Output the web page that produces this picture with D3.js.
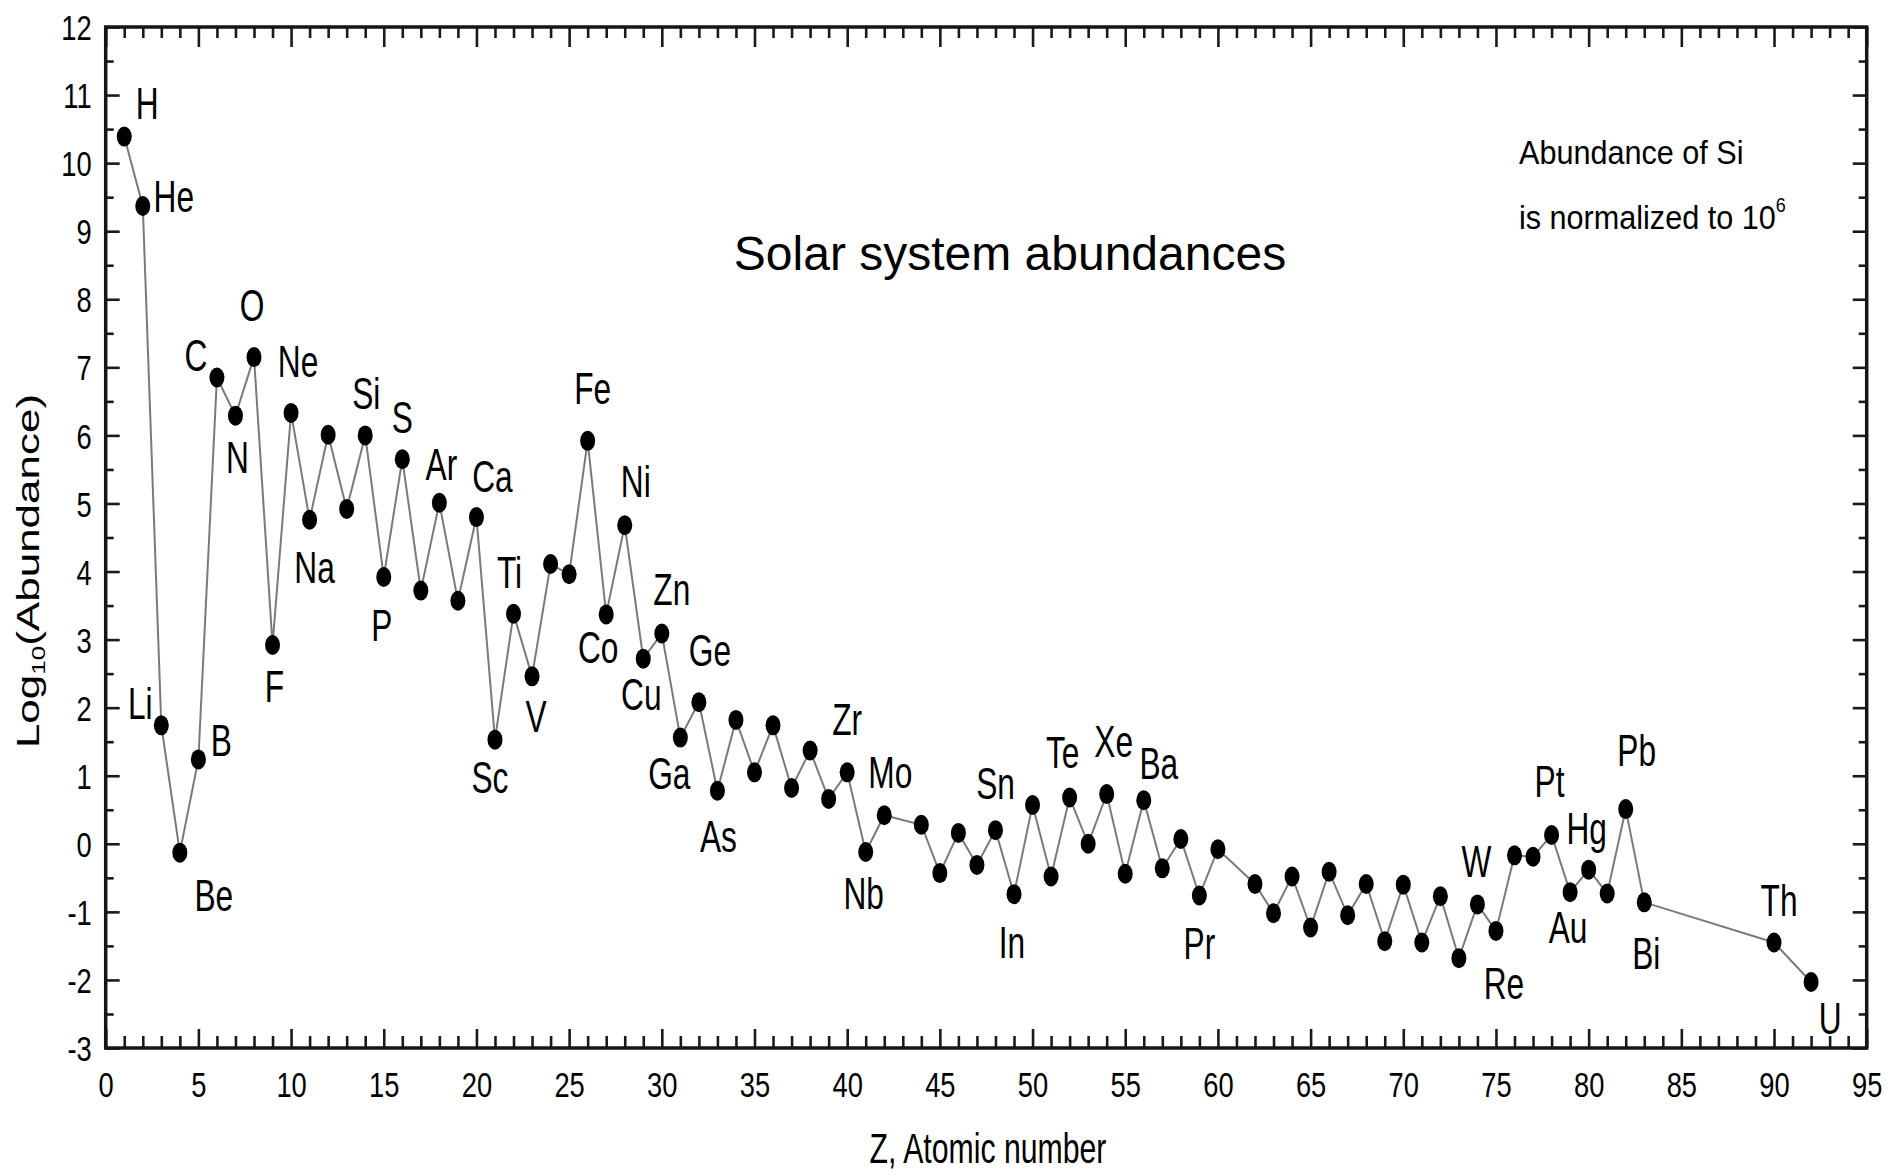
<!DOCTYPE html>
<html>
<head>
<meta charset="utf-8">
<script src="https://cdn.jsdelivr.net/npm/d3@7/dist/d3.min.js"></script>
<style>
  html, body { margin: 0; padding: 0; background: #ffffff; }
  svg { display: block; }
  text { font-family: "Liberation Sans", Arial, Helvetica, sans-serif; fill: #000; }
</style>
</head>
<body>
<svg id="chart" width="1896" height="1176"></svg>
<script>
// Atomic numbers of the plotted elements (no stable Tc, Pm, or Po..Ac, Pa)
const atomicNumbers = [
  1, 2, 3, 4, 5, 6, 7, 8, 9, 10,
  11, 12, 13, 14, 15, 16, 17, 18, 19, 20,
  21, 22, 23, 24, 25, 26, 27, 28, 29, 30,
  31, 32, 33, 34, 35, 36, 37, 38, 39, 40,
  41, 42, 44, 45, 46, 47, 48, 49, 50,
  51, 52, 53, 54, 55, 56, 57, 58, 59, 60,
  62, 63, 64, 65, 66, 67, 68, 69, 70,
  71, 72, 73, 74, 75, 76, 77, 78, 79, 80,
  81, 82, 83, 90, 92
];

const symbols = [
  "H", "He", "Li", "Be", "B", "C", "N", "O", "F", "Ne",
  "Na", "Mg", "Al", "Si", "P", "S", "Cl", "Ar", "K", "Ca",
  "Sc", "Ti", "V", "Cr", "Mn", "Fe", "Co", "Ni", "Cu", "Zn",
  "Ga", "Ge", "As", "Se", "Br", "Kr", "Rb", "Sr", "Y", "Zr",
  "Nb", "Mo", "Ru", "Rh", "Pd", "Ag", "Cd", "In", "Sn",
  "Sb", "Te", "I", "Xe", "Cs", "Ba", "La", "Ce", "Pr", "Nd",
  "Sm", "Eu", "Gd", "Tb", "Dy", "Ho", "Er", "Tm", "Yb",
  "Lu", "Hf", "Ta", "W", "Re", "Os", "Ir", "Pt", "Au", "Hg",
  "Tl", "Pb", "Bi", "Th", "U"
];

// log10 of the abundance, Si = 10^6
const logAbundance = [
  10.39, 9.37, 1.74, -0.13, 1.24, 6.85, 6.29, 7.15, 2.92, 6.33,
  4.76, 6.01, 4.92, 6.00, 3.92, 5.65, 3.72, 5.01, 3.57, 4.80,
  1.53, 3.38, 2.46, 4.11, 3.96, 5.92, 3.37, 4.68, 2.72, 3.09,
  1.56, 2.08, 0.78, 1.82, 1.05, 1.74, 0.82, 1.37, 0.66, 1.05,
  -0.12, 0.42, 0.28, -0.43, 0.16, -0.31, 0.20, -0.74, 0.57,
  -0.48, 0.68, 0.00, 0.73, -0.44, 0.64, -0.36, 0.07, -0.76, -0.08,
  -0.59, -1.02, -0.48, -1.23, -0.41, -1.05, -0.59, -1.43, -0.60,
  -1.45, -0.77, -1.68, -0.89, -1.28, -0.17, -0.19, 0.13, -0.71, -0.38,
  -0.73, 0.51, -0.86, -1.45, -2.03
];

// Axis ticks
const xMajorTicks = [0, 5, 10, 15, 20, 25, 30, 35, 40, 45, 50, 55, 60, 65, 70, 75, 80, 85, 90, 95];
const yMajorTicks = [-3, -2, -1, 0, 1, 2, 3, 4, 5, 6, 7, 8, 9, 10, 11, 12];

// Text
const titleText = "Solar system abundances";
const xTitle = "Z, Atomic number";
const noteLines = ["Abundance of Si", "is normalized to 10"];
const noteExponent = "6";

// Label placement for the named elements: offset of the label centre from the marker (px)
const labelOffsets = {
  H: [23, -33], He: [31, -10], Li: [-21, -22], Be: [34, 42], B: [23, -19],
  C: [-21, -22], N: [2, 41], O: [-2, -52], F: [2, 41], Ne: [7, -52],
  Na: [5, 47], Si: [1, -42], P: [-2, 48], S: [0, -42], Ar: [2, -39],
  Ca: [16, -41], Sc: [-5, 37], Ti: [-4, -42], V: [4, 40], Fe: [5, -53],
  Co: [-8, 33], Ni: [11, -44], Cu: [-2, 35], Zn: [10, -44], Ga: [-11, 36],
  Ge: [11, -52], As: [1, 45], Zr: [0, -53], Nb: [-2, 41], Mo: [6, -43],
  Sn: [-37, -22], In: [-2, 48], Te: [-7, -45], Xe: [7, -53], Ba: [15, -37],
  Pr: [0, 48], W: [-1, -43], Re: [8, 52], Pt: [-2, -54], Au: [-2, 35],
  Hg: [-2, -42], Pb: [11, -59], Bi: [2, 51], Th: [5, -42], U: [19, 36]
};

const svg = d3.select("#chart");
const plot = { left: 105.7, right: 1866.7, top: 27, bottom: 1048 };

const x = d3.scaleLinear().domain([0, 95]).range([plot.left, plot.right]);
const y = d3.scaleLinear().domain([-3, 12]).range([plot.bottom, plot.top]);

const narrowTick = 0.78;   // horizontal squeeze of tick numerals
const narrowLabel = 0.72;  // horizontal squeeze of element labels and axis titles

const points = atomicNumbers.map((z, i) => ({ z, sym: symbols[i], v: logAbundance[i] }));

// ---- axes (all ticks point inward) ----
const tickColor = "#1a1a1a";
function styleAxis(g) {
  g.select(".domain").remove();
  g.selectAll(".tick line").attr("stroke", tickColor).attr("stroke-width", 2.6);
}

const xMinor = d3.range(0, 96).filter(d => d % 5 !== 0);
const yMinor = d3.range(-2.5, 12, 1);

// bottom
svg.append("g").attr("transform", `translate(0,${plot.bottom})`)
  .call(d3.axisBottom(x).tickValues(xMinor).tickSize(-12).tickFormat(""))
  .call(styleAxis);
const xAxisG = svg.append("g").attr("transform", `translate(0,${plot.bottom})`)
  .call(d3.axisBottom(x).tickValues(xMajorTicks).tickSizeInner(-19).tickSizeOuter(0)
    .tickPadding(24).tickFormat(d => String(d)))
  .call(styleAxis);
xAxisG.selectAll("text")
  .attr("font-family", "Liberation Sans, Arial, sans-serif")
  .attr("font-size", 35)
  .attr("fill", "#000")
  .attr("transform", `scale(${narrowTick},1)`);

// top
svg.append("g").attr("transform", `translate(0,${plot.top})`)
  .call(d3.axisTop(x).tickValues(xMinor).tickSize(-11).tickFormat(""))
  .call(styleAxis);
svg.append("g").attr("transform", `translate(0,${plot.top})`)
  .call(d3.axisTop(x).tickValues(xMajorTicks).tickSize(-20).tickFormat(""))
  .call(styleAxis);

// left
svg.append("g").attr("transform", `translate(${plot.left},0)`)
  .call(d3.axisLeft(y).tickValues(yMinor).tickSize(-8).tickFormat(""))
  .call(styleAxis);
const yAxisG = svg.append("g").attr("transform", `translate(${plot.left},0)`)
  .call(d3.axisLeft(y).tickValues(yMajorTicks).tickSizeInner(-14).tickSizeOuter(0)
    .tickPadding(14).tickFormat(d => String(d)))
  .call(styleAxis);
yAxisG.selectAll("text")
  .attr("font-family", "Liberation Sans, Arial, sans-serif")
  .attr("font-size", 35)
  .attr("fill", "#000")
  .attr("x", -14 / narrowTick)
  .attr("dy", "0.36em")
  .attr("transform", `scale(${narrowTick},1)`);

// right
svg.append("g").attr("transform", `translate(${plot.right},0)`)
  .call(d3.axisRight(y).tickValues(yMinor).tickSize(-8).tickFormat(""))
  .call(styleAxis);
svg.append("g").attr("transform", `translate(${plot.right},0)`)
  .call(d3.axisRight(y).tickValues(yMajorTicks).tickSize(-14).tickFormat(""))
  .call(styleAxis);

// frame
svg.append("rect")
  .attr("x", plot.left).attr("y", plot.top)
  .attr("width", plot.right - plot.left).attr("height", plot.bottom - plot.top)
  .attr("fill", "none").attr("stroke", "#151515").attr("stroke-width", 3.5);

// ---- connecting line ----
const line = d3.line().x(d => x(d.z)).y(d => y(d.v));
svg.append("path")
  .datum(points)
  .attr("d", line)
  .attr("fill", "none")
  .attr("stroke", "#7a7a7a")
  .attr("stroke-width", 2);

// ---- markers ----
svg.append("g").selectAll("ellipse")
  .data(points)
  .join("ellipse")
  .attr("cx", d => x(d.z))
  .attr("cy", d => y(d.v))
  .attr("rx", 7.5)
  .attr("ry", 10)
  .attr("fill", "#000");

// ---- element labels ----
svg.append("g").selectAll("text")
  .data(points.filter(d => labelOffsets[d.sym]))
  .join("text")
  .attr("transform", d => {
    const [dx, dy] = labelOffsets[d.sym];
    return `translate(${x(d.z) + dx},${y(d.v) + dy}) scale(${narrowLabel},1)`;
  })
  .attr("text-anchor", "middle")
  .attr("dy", "0.36em")
  .attr("font-size", 44)
  .text(d => d.sym);

// ---- title ----
svg.append("text")
  .attr("x", 1010).attr("y", 270)
  .attr("text-anchor", "middle")
  .attr("font-size", 48)
  .text(titleText);

// ---- normalisation note ----
const note = svg.append("g").attr("transform", "translate(1519,0) scale(0.9,1)");
note.append("text").attr("x", 0).attr("y", 164).attr("font-size", 34).text(noteLines[0]);
const note2 = note.append("text").attr("x", 0).attr("y", 229).attr("font-size", 34);
note2.append("tspan").text(noteLines[1]);
note2.append("tspan").attr("font-size", 20).attr("dy", -17).text(noteExponent);

// ---- axis titles ----
svg.append("text")
  .attr("transform", `translate(988,1163) scale(${narrowLabel},1)`)
  .attr("text-anchor", "middle")
  .attr("font-size", 42)
  .text(xTitle);

const yTitle = svg.append("text")
  .attr("transform", `translate(27,571) rotate(-90) scale(1,${narrowLabel + 0.01})`)
  .attr("text-anchor", "middle")
  .attr("dy", "0.36em")
  .attr("font-size", 44);
yTitle.append("tspan").text("Log");
yTitle.append("tspan").attr("font-size", 26).attr("dy", 9).text("10");
yTitle.append("tspan").attr("dy", -9).text("(Abundance)");
</script>
</body>
</html>
